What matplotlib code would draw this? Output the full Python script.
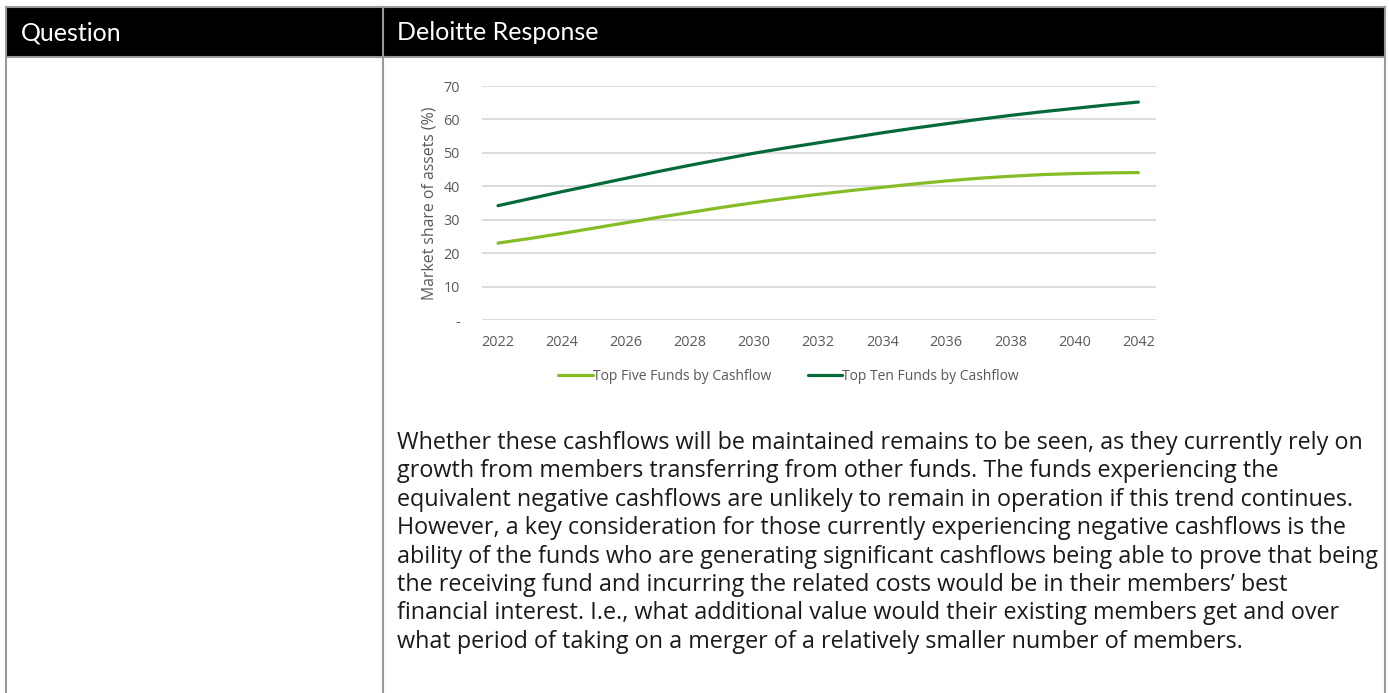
import numpy as np
import matplotlib
matplotlib.use('Agg')
import matplotlib.pyplot as plt
from matplotlib.patches import Rectangle

years = list(range(2022, 2043))
top_five = [23.0, 24.4, 25.9, 27.5, 29.1, 30.7, 32.2, 33.7, 35.1, 36.4, 37.6,
            38.7, 39.7, 40.7, 41.6, 42.4, 43.0, 43.5, 43.8, 44.0, 44.1]
top_ten = [34.2, 36.3, 38.4, 40.4, 42.4, 44.4, 46.3, 48.1, 49.9, 51.5, 53.0,
           54.5, 56.0, 57.4, 58.7, 60.0, 61.2, 62.3, 63.3, 64.3, 65.2]
x_ticks = list(range(2022, 2043, 2))
y_ticks = [0, 10, 20, 30, 40, 50, 60, 70]
y_tick_labels = ['-', '10', '20', '30', '40', '50', '60', '70']

header_cols = ['Question', 'Deloitte Response']
paragraph = [
    "Whether these cashflows will be maintained remains to be seen, as they currently rely on",
    "growth from members transferring from other funds. The funds experiencing the",
    "equivalent negative cashflows are unlikely to remain in operation if this trend continues.",
    "However, a key consideration for those currently experiencing negative cashflows is the",
    "ability of the funds who are generating significant cashflows being able to prove that being",
    "the receiving fund and incurring the related costs would be in their members\u2019 best",
    "financial interest. I.e., what additional value would their existing members get and over",
    "what period of taking on a merger of a relatively smaller number of members.",
]

W, H = 1389, 693
fig = plt.figure(figsize=(W / 100, H / 100), dpi=100)

# table frame drawn in pixel coords
bg = fig.add_axes([0, 0, 1, 1])
bg.set_xlim(0, W)
bg.set_ylim(H, 0)
bg.axis('off')
border = '#9a9a9a'
bg.add_patch(Rectangle((6, 7), 1379, 49, facecolor='black', edgecolor='none'))
bg.plot([6, 1385], [7, 7], color=border, lw=1.5)
bg.plot([6, 1385], [56.5, 56.5], color=border, lw=1.5)
bg.plot([6, 6], [7, H], color=border, lw=1.5)
bg.plot([383, 383], [7, H], color=border, lw=1.5)
bg.plot([1385, 1385], [7, H], color=border, lw=1.5)
bg.text(21, 33, header_cols[0], color='white', fontsize=18, family='Lato',
        va='center', ha='left')
bg.text(397, 33, header_cols[1], color='white', fontsize=18, family='Lato',
        va='center', ha='left')

for i, line in enumerate(paragraph):
    bg.text(397, 443 + i * 28.4, line, fontsize=16.8, family='Open Sans',
            color='#1a1a1a', va='center', ha='left')

# chart
ax = fig.add_axes([482 / W, 1 - 320 / H, 674 / W, 234 / H])
grey = '#595959'
ax.plot(years, top_five, color='#86BC25', lw=2.3, label='Top Five Funds by Cashflow',
        solid_capstyle='round')
ax.plot(years, top_ten, color='#046A38', lw=2.3, label='Top Ten Funds by Cashflow',
        solid_capstyle='round')
ax.set_xlim(2021.5, 2042.55)
ax.set_ylim(0, 70)
ax.set_xticks(x_ticks)
ax.set_xticklabels([str(t) for t in x_ticks])
ax.set_yticks(y_ticks)
ax.set_yticklabels(y_tick_labels)
ax.grid(axis='y', color='#d9d9d9', lw=1.3)
ax.set_axisbelow(True)
for s in ax.spines.values():
    s.set_visible(False)
ax.tick_params(length=0, labelsize=10.4, colors=grey, pad=11)
ax.tick_params(axis='y', pad=16)
for lab in ax.get_xticklabels() + ax.get_yticklabels():
    lab.set_family('Open Sans')
ax.set_ylabel('Market share of assets (%)', fontsize=11.4, color=grey,
              family='Open Sans', labelpad=4)
leg = ax.legend(loc='upper center', bbox_to_anchor=(0.455, -0.155), ncol=2,
                frameon=False, prop={'family': 'Open Sans', 'size': 10},
                handlelength=2.5, handletextpad=0.0, columnspacing=2.6)
for t in leg.get_texts():
    t.set_color(grey)

fig.savefig('out.png', dpi=100)
